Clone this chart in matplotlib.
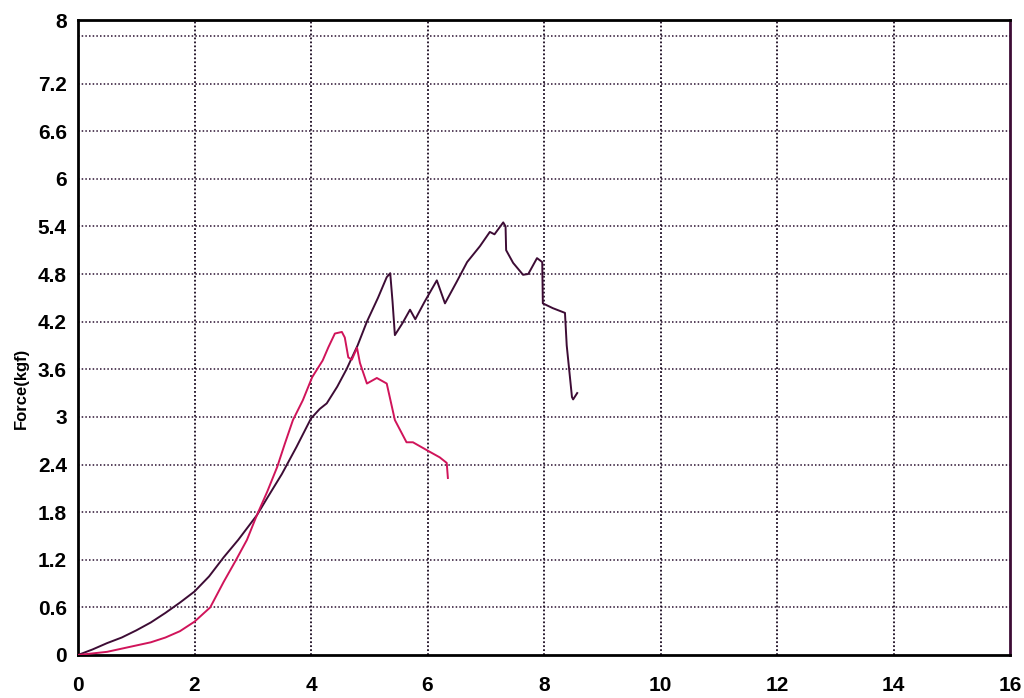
import matplotlib
matplotlib.use("Agg")
import matplotlib.pyplot as plt
import numpy as np

# Dark (sample A) curve
dark_x = [0.0, 0.25, 0.5, 0.75, 1.0, 1.25, 1.5, 1.75, 2.0, 2.25, 2.5, 2.75, 3.07, 3.25, 3.5, 3.75,
          4.0, 4.15, 4.27, 4.45, 4.61, 4.8, 4.96, 5.15, 5.3, 5.36,
          5.40, 5.44, 5.57, 5.70, 5.79, 5.95, 6.16, 6.30, 6.50, 6.68, 6.90, 7.07, 7.15,
          7.30, 7.34, 7.35, 7.47, 7.64, 7.73, 7.88, 7.97, 7.98, 8.15, 8.36, 8.39, 8.48, 8.50, 8.57]
dark_y = [0.0, 0.07, 0.15, 0.22, 0.31, 0.41, 0.53, 0.66, 0.80, 0.99, 1.23, 1.45, 1.76, 1.98, 2.28, 2.62,
          2.98, 3.10, 3.17, 3.38, 3.60, 3.90, 4.20, 4.50, 4.76, 4.81,
          4.45, 4.03, 4.18, 4.35, 4.23, 4.45, 4.72, 4.43, 4.70, 4.95, 5.15, 5.33, 5.30,
          5.45, 5.40, 5.10, 4.94, 4.79, 4.80, 5.00, 4.95, 4.43, 4.37, 4.31, 3.90, 3.25, 3.22, 3.30]

# Red (sample B) curve
red_x = [0.0, 0.25, 0.5, 0.75, 1.0, 1.25, 1.5, 1.75, 2.0, 2.27, 2.5, 2.7, 2.9, 3.07, 3.25, 3.42,
         3.55, 3.69, 3.86, 4.02, 4.2, 4.3, 4.41,
         4.53, 4.58, 4.64, 4.70, 4.79, 4.84, 4.96, 5.13, 5.3, 5.44, 5.64, 5.75, 5.99, 6.21,
         6.33, 6.35]
red_y = [0.0, 0.02, 0.04, 0.08, 0.12, 0.16, 0.22, 0.30, 0.42, 0.60, 0.92, 1.18, 1.45, 1.76, 2.06, 2.37,
         2.66, 2.96, 3.21, 3.50, 3.71, 3.88, 4.05,
         4.07, 4.00, 3.75, 3.72, 3.87, 3.68, 3.42, 3.49, 3.42, 2.96, 2.68, 2.68, 2.58, 2.49,
         2.42, 2.23]

x_ticks = [0, 2, 4, 6, 8, 10, 12, 14, 16]
y_ticks = [0, 0.6, 1.2, 1.8, 2.4, 3, 3.6, 4.2, 4.8, 5.4, 6, 6.6, 7.2, 8]
y_tick_labels = ["0", "0.6", "1.2", "1.8", "2.4", "3", "3.6", "4.2", "4.8", "5.4", "6", "6.6", "7.2", "8"]
y_grid = [0.6, 1.2, 1.8, 2.4, 3.0, 3.6, 4.2, 4.8, 5.4, 6.0, 6.6, 7.2, 7.8]
x_grid = [2, 4, 6, 8, 10, 12, 14]

plt.rcParams['font.family'] = ['Liberation Sans', 'DejaVu Sans']

fig = plt.figure(figsize=(10.24, 6.98), dpi=100)
ax = fig.add_axes([78/1024, 43/698, (1010-78)/1024, (655-20)/698])

for g in y_grid:
    ax.axhline(g, color="#2a1030", lw=1.1, ls=(0, (1, 1.4)), zorder=1)
for g in x_grid:
    ax.axvline(g, color="#1a0a20", lw=1.3, ls=(0, (1, 1.2)), zorder=1)

ax.plot(dark_x, dark_y, color="#3d0c35", lw=1.4, zorder=3)
ax.plot(red_x, red_y, color="#d0145a", lw=1.4, zorder=3)

ax.set_xlim(0, 16)
ax.set_ylim(0, 8)
ax.set_xticks(x_ticks)
ax.set_xticklabels([str(t) for t in x_ticks])
ax.set_yticks(y_ticks)
ax.set_yticklabels(y_tick_labels)
ax.tick_params(axis='both', length=0, labelsize=15)
ax.tick_params(axis='x', pad=15)
ax.tick_params(axis='y', pad=8)
for lab in ax.get_xticklabels() + ax.get_yticklabels():
    lab.set_fontweight('bold')

for side in ['left', 'top', 'bottom']:
    ax.spines[side].set_linewidth(2)
    ax.spines[side].set_color('black')
ax.spines['right'].set_linewidth(2)
ax.spines['right'].set_color('#3d0c35')

ax.set_ylabel("Force(kgf)", fontsize=12, fontweight='bold')
ax.yaxis.set_label_coords(-0.053, 0.42)

fig.savefig("out.png", dpi=100)
